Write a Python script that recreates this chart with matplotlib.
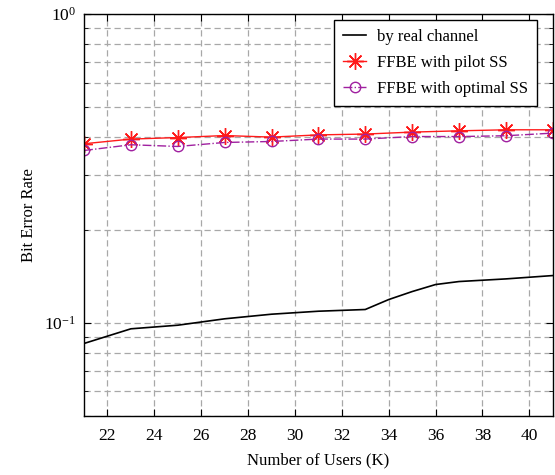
import matplotlib
matplotlib.use("Agg")
import matplotlib.pyplot as plt
from matplotlib.ticker import LogLocator, NullFormatter, FixedLocator

# Data
users = [21, 23, 25, 27, 29, 31, 33, 35, 37, 39, 41]
users_real = [21, 23, 25, 27, 29, 31, 33, 34, 35, 36, 37, 39, 41]
ber_real = [0.0857, 0.0956, 0.0982, 0.1030, 0.1066, 0.1090, 0.1104,
            0.1189, 0.1262, 0.1330, 0.1360, 0.1387, 0.1422]
ber_pilot = [0.380, 0.3935, 0.398, 0.404, 0.3993, 0.406, 0.4085,
             0.4145, 0.4185, 0.4217, 0.4217]
ber_optimal = [0.3614, 0.3772, 0.3724, 0.3837, 0.3865, 0.3935, 0.3935,
               0.401, 0.401, 0.4034, 0.4114]
xticks = [22, 24, 26, 28, 30, 32, 34, 36, 38, 40]
labels = ["by real channel", "FFBE with pilot SS", "FFBE with optimal SS"]

plt.rcParams['font.family'] = ['Liberation Serif', 'DejaVu Serif']
plt.rcParams['mathtext.fontset'] = 'stix'

fig = plt.figure(figsize=(5.55, 4.75), dpi=100)
ax = fig.add_axes([0.1514, 0.1248, 0.8445, 0.8457])

ax.plot(users_real, ber_real, color='black', lw=1.2, label=labels[0])
ax.plot(users, ber_pilot, color='#ff1a1a', lw=1.0, marker=(8, 2, 0),
        markersize=12, markeredgewidth=1.0, label=labels[1])
ax.plot(users, ber_optimal, color='#a020a0', lw=1.0, linestyle='-.',
        marker='o', markersize=7.5, markerfacecolor='none',
        markeredgewidth=1.0, label=labels[2])

ax.set_yscale('log')
ax.set_xlim(21, 41)
ax.set_ylim(0.05, 1)
ax.xaxis.set_major_locator(FixedLocator(xticks))
ax.yaxis.set_major_locator(LogLocator(base=10, numticks=10))
ax.yaxis.set_minor_locator(LogLocator(base=10, subs=range(2, 10), numticks=20))
ax.yaxis.set_minor_formatter(NullFormatter())

ax.grid(True, which='major', axis='both', color='#a8a8a8', linestyle=(0, (5, 3)), lw=0.9)
ax.grid(True, which='minor', axis='y', color='#a8a8a8', linestyle=(0, (5, 3)), lw=0.9)
ax.set_axisbelow(True)

ax.tick_params(which='both', direction='in', top=True, right=True, labelsize=12.5)
ax.tick_params(which='major', length=5)
ax.tick_params(which='minor', length=3)
ax.tick_params(axis='x', pad=9)
ax.tick_params(axis='y', pad=6)
for s in ax.spines.values():
    s.set_linewidth(1.0)

ax.set_xlabel('Number of Users (K)', fontsize=12, labelpad=6)
ax.set_ylabel('Bit Error Rate', fontsize=12, labelpad=5)

leg = ax.legend(loc='upper right', fontsize=12, fancybox=False, framealpha=1,
                edgecolor='black', borderpad=0.55, borderaxespad=0,
                handlelength=1.35, handletextpad=0.65, labelspacing=0.6,
                bbox_to_anchor=(0.966, 0.985))
leg.get_frame().set_linewidth(1.0)

fig.savefig('out.png', dpi=100)
